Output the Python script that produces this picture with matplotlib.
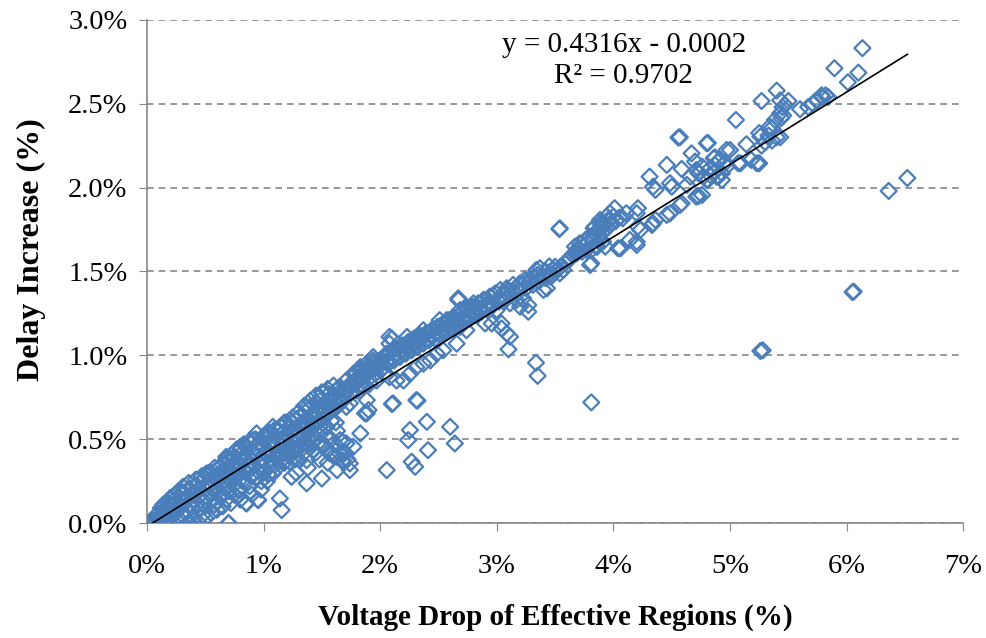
import matplotlib.pyplot as plt
import numpy as np

# values, in percent (x = voltage drop, y = delay increase)
near_origin = [
    (0.02, 0.0), (0.05, 0.0), (0.08, 0.01), (0.1, 0.0), (0.1, 0.03), (0.12, 0.05),
    (0.15, 0.0), (0.15, 0.04), (0.15, 0.08), (0.18, 0.02), (0.2, 0.0), (0.2, 0.06),
    (0.2, 0.1), (0.22, 0.13), (0.25, 0.02), (0.25, 0.08), (0.25, 0.12), (0.28, 0.0),
    (0.28, 0.15), (0.3, 0.05), (0.3, 0.1), (0.3, 0.18), (0.33, 0.13), (0.35, 0.0),
    (0.35, 0.07), (0.35, 0.16), (0.35, 0.2), (0.38, 0.11), (0.4, 0.03), (0.4, 0.14),
    (0.4, 0.22), (0.42, 0.18), (0.45, 0.0), (0.45, 0.08), (0.45, 0.16), (0.45, 0.24),
    (0.48, 0.12), (0.5, 0.03), (0.5, 0.2), (0.5, 0.27), (0.52, 0.15), (0.55, 0.06),
    (0.55, 0.23), (0.55, 0.3), (0.58, 0.11), (0.58, 0.19), (0.6, 0.08), (0.6, 0.26),
    (0.6, 0.32), (0.62, 0.16), (0.65, 0.1), (0.65, 0.22), (0.65, 0.29), (0.65, 0.35),
    (0.68, 0.14), (0.7, 0.0), (0.7, 0.19), (0.7, 0.26), (0.7, 0.37), (0.72, 0.12),
    (0.72, 0.31), (0.75, 0.17), (0.75, 0.23), (0.75, 0.39), (0.78, 0.28), (0.8, 0.14),
    (0.8, 0.2), (0.8, 0.34), (0.8, 0.44), (0.82, 0.25), (0.85, 0.12), (0.85, 0.3),
    (0.85, 0.38), (0.85, 0.46), (0.88, 0.22), (0.9, 0.17), (0.9, 0.33), (0.9, 0.42),
    (0.9, 0.48), (0.93, 0.27), (0.95, 0.14), (0.95, 0.36), (0.95, 0.44), (0.98, 0.2),
    (0.37, 0.0), (0.955, 0.137), (0.855, 0.117), (0.94, 0.535), (0.225, 0.157),
    (0.31, 0.217), (0.51, 0.296), (0.68, 0.395), (0.80, 0.455), (0.91, 0.495),
    (0.05, 0.02), (0.07, 0.04), (0.1, 0.06), (0.12, 0.09), (0.14, 0.11), (0.17, 0.06),
    (0.18, 0.12), (0.2, 0.15), (0.23, 0.05), (0.24, 0.17), (0.27, 0.1), (0.27, 0.19),
    (0.3, 0.14), (0.32, 0.21), (0.33, 0.03), (0.36, 0.24), (0.38, 0.17), (0.4, 0.08),
    (0.42, 0.26), (0.43, 0.12), (0.44, 0.2), (0.47, 0.28), (0.48, 0.05), (0.5, 0.1),
    (0.5, 0.16), (0.52, 0.24), (0.53, 0.3), (0.56, 0.18), (0.57, 0.27), (0.58, 0.33),
    (0.6, 0.13), (0.6, 0.21), (0.62, 0.29), (0.63, 0.34), (0.65, 0.17), (0.66, 0.25),
    (0.67, 0.32), (0.68, 0.38), (0.7, 0.22), (0.72, 0.29), (0.73, 0.35), (0.73, 0.41),
    (0.75, 0.27), (0.76, 0.33), (0.77, 0.44), (0.78, 0.2), (0.8, 0.3), (0.8, 0.38),
    (0.82, 0.42), (0.83, 0.47), (0.85, 0.25), (0.86, 0.34), (0.87, 0.4), (0.88, 0.49),
    (0.9, 0.28), (0.9, 0.37), (0.92, 0.45), (0.93, 0.5), (0.95, 0.31), (0.95, 0.4),
    (0.97, 0.48), (0.98, 0.25), (0.98, 0.35),
]

low_band = [
    (1.0, 0.3), (1.0, 0.38), (1.0, 0.46), (1.0, 0.52), (1.03, 0.25), (1.05, 0.34),
    (1.05, 0.42), (1.05, 0.54), (1.08, 0.3), (1.1, 0.39), (1.1, 0.46), (1.1, 0.56),
    (1.12, 0.33), (1.15, 0.42), (1.15, 0.5), (1.15, 0.58), (1.18, 0.36), (1.2, 0.45),
    (1.2, 0.53), (1.2, 0.6), (1.22, 0.4), (1.25, 0.48), (1.25, 0.56), (1.25, 0.63),
    (1.28, 0.43), (1.3, 0.5), (1.3, 0.58), (1.3, 0.66), (1.33, 0.47), (1.35, 0.53),
    (1.35, 0.61), (1.35, 0.7), (1.38, 0.5), (1.4, 0.56), (1.4, 0.64), (1.4, 0.73),
    (1.43, 0.52), (1.45, 0.59), (1.45, 0.67), (1.45, 0.76), (1.48, 0.55), (1.5, 0.62),
    (1.5, 0.7), (1.5, 0.78), (1.53, 0.58), (1.55, 0.65), (1.55, 0.73), (1.55, 0.8),
    (1.58, 0.61), (1.6, 0.68), (1.6, 0.76), (1.6, 0.82), (1.63, 0.55), (1.65, 0.72),
    (1.65, 0.78), (1.3, 0.38), (1.35, 0.42), (1.4, 0.45), (1.45, 0.42), (1.5, 0.48),
    (1.55, 0.44), (1.45, 0.5), (1.38, 0.33), (1.28, 0.3), (1.03, 0.535), (1.08, 0.574),
    (1.226, 0.614), (1.37, 0.693), (1.51, 0.773), (1.655, 0.813),
    (1.14, 0.147), (1.155, 0.078), (1.24, 0.276), (1.08, 0.296), (1.37, 0.237),
    (1.50, 0.266), (1.63, 0.316), (1.74, 0.316), (1.68, 0.366), (1.655, 0.415),
    (1.40, 0.555), (1.34, 0.515), (1.37, 0.475), (1.31, 0.455), (1.43, 0.435),
    (1.51, 0.455), (1.57, 0.415), (1.63, 0.395), (1.68, 0.375), (1.74, 0.356),
    (1.255, 0.435), (1.20, 0.415), (1.14, 0.395), (1.225, 0.366), (1.37, 0.375),
    (1.54, 0.574), (1.48, 0.574), (1.655, 0.495), (1.71, 0.475), (1.77, 0.455),
    (1.83, 0.535), (1.68, 0.485), (1.68, 0.425),
    (1.02, 0.42), (1.02, 0.5), (1.04, 0.29), (1.06, 0.48), (1.07, 0.38), (1.09, 0.52),
    (1.1, 0.35), (1.12, 0.43), (1.13, 0.55), (1.15, 0.37), (1.16, 0.46), (1.17, 0.54),
    (1.18, 0.6), (1.2, 0.49), (1.22, 0.57), (1.23, 0.44), (1.24, 0.6), (1.26, 0.52),
    (1.27, 0.38), (1.28, 0.62), (1.3, 0.45), (1.3, 0.54), (1.32, 0.64), (1.33, 0.58),
    (1.35, 0.48), (1.36, 0.66), (1.37, 0.57), (1.39, 0.61), (1.4, 0.69), (1.42, 0.59),
    (1.42, 0.48), (1.44, 0.64), (1.45, 0.72), (1.47, 0.61), (1.48, 0.68), (1.5, 0.74),
    (1.52, 0.66), (1.53, 0.52), (1.54, 0.7), (1.56, 0.77), (1.57, 0.68), (1.58, 0.5),
    (1.6, 0.73), (1.62, 0.79), (1.63, 0.46), (1.64, 0.7), (1.66, 0.75), (1.6, 0.4),
    (1.55, 0.36), (1.48, 0.38), (1.62, 0.6), (1.7, 0.42), (1.72, 0.38),
]

mid_band = [
    (1.62, 0.72), (1.68, 0.76), (1.72, 0.8), (1.76, 0.82), (1.8, 0.84), (1.85, 0.87),
    (1.9, 0.9), (1.95, 0.92), (2.0, 0.94), (2.05, 0.96), (2.1, 0.99), (2.15, 1.01),
    (2.2, 1.03), (2.25, 1.05), (2.3, 1.07), (2.35, 1.09), (2.4, 1.1), (2.45, 1.12),
    (2.5, 1.14), (2.55, 1.16), (2.6, 1.18), (2.65, 1.2), (2.7, 1.22), (2.75, 1.24),
    (2.8, 1.26), (2.85, 1.28), (2.9, 1.3), (2.95, 1.31), (3.0, 1.33),
    (2.80, 1.31), (2.74, 1.29), (2.685, 1.27), (2.63, 1.23), (2.57, 1.19), (2.51, 1.17),
    (2.455, 1.15), (2.40, 1.13), (2.34, 1.11), (2.28, 1.09), (2.23, 1.07), (2.17, 1.05),
    (2.11, 1.03), (2.056, 1.01), (2.00, 0.97), (1.94, 0.95), (1.885, 0.93), (1.83, 0.91),
    (1.77, 0.89), (1.71, 0.85), (1.655, 0.81),
    (2.656, 1.07), (2.54, 1.03), (2.485, 1.01), (2.43, 0.97), (2.37, 0.95), (2.31, 0.93),
    (2.255, 0.89), (2.20, 0.85), (2.14, 0.85), (2.08, 0.87), (2.03, 0.89), (1.97, 0.85),
    (1.91, 0.83), (1.855, 0.81), (1.80, 0.79), (1.74, 0.77), (1.68, 0.73),
    (2.57, 1.21), (2.51, 1.21), (2.37, 1.15), (2.23, 1.11), (2.08, 1.07), (1.94, 0.99),
    (1.83, 0.93), (1.80, 0.893), (1.885, 0.952), (2.08, 1.11), (2.10, 1.10), (2.67, 1.33),
    (2.67, 1.34), (1.83, 0.912), (1.87, 0.893), (1.885, 0.733), (1.90, 0.674),
    (1.71, 0.693), (1.74, 0.714), (1.94, 0.97), (1.885, 0.654),
    (1.7, 0.79), (1.73, 0.82), (1.75, 0.78), (1.78, 0.85), (1.82, 0.87), (1.84, 0.83),
    (1.87, 0.9), (1.9, 0.86), (1.92, 0.93), (1.96, 0.89), (1.98, 0.95), (2.02, 0.92),
    (2.04, 0.99), (2.07, 0.95), (2.09, 1.02), (2.12, 0.97), (2.14, 1.04), (2.17, 0.99),
    (2.19, 1.06), (2.22, 1.01), (2.24, 1.08), (2.27, 1.03), (2.29, 1.1), (2.32, 1.05),
    (2.34, 1.12), (2.37, 1.07), (2.39, 1.13), (2.42, 1.09), (2.44, 1.15), (2.47, 1.1),
    (2.49, 1.17), (2.52, 1.12), (2.54, 1.19), (2.57, 1.14), (2.59, 1.21), (2.62, 1.16),
    (2.64, 1.22), (2.67, 1.18), (2.69, 1.25), (2.72, 1.2), (2.74, 1.27), (2.77, 1.22),
    (2.79, 1.29), (2.82, 1.24), (2.84, 1.31), (2.87, 1.26), (2.89, 1.33), (2.92, 1.28),
    (2.94, 1.35), (2.97, 1.3), (2.99, 1.37), (3.02, 1.32), (3.05, 1.36), (3.08, 1.34),
    (3.1, 1.38), (3.13, 1.36), (3.16, 1.4), (3.19, 1.38), (3.22, 1.42), (3.25, 1.4),
    (3.28, 1.44), (3.31, 1.42), (3.33, 1.46), (3.36, 1.44), (3.39, 1.47), (3.42, 1.46),
    (3.45, 1.49), (3.48, 1.48), (3.52, 1.51), (3.55, 1.53), (3.58, 1.55), (3.62, 1.57),
    (3.65, 1.6), (3.68, 1.62), (3.7, 1.64), (3.74, 1.65), (3.78, 1.67), (3.82, 1.69),
    (3.86, 1.71), (3.9, 1.73), (3.95, 1.76), (3.98, 1.79), (4.02, 1.8), (4.05, 1.82),
]

upper_band = [
    (2.97, 1.36), (3.03, 1.39), (3.085, 1.40), (3.14, 1.42), (3.20, 1.43), (3.24, 1.45),
    (3.285, 1.46), (3.06, 1.32), (3.113, 1.31), (3.17, 1.33), (3.225, 1.34), (3.27, 1.30),
    (3.20, 1.29), (2.999, 1.27), (3.04, 1.19), (2.94, 1.32), (2.885, 1.33), (2.856, 1.27),
    (2.80, 1.27), (2.77, 1.23), (2.727, 1.21), (2.685, 1.17), (2.74, 1.15), (2.90, 1.19),
    (2.956, 1.19), (3.10, 1.036), (3.113, 1.111), (3.085, 1.131), (3.04, 1.161),
    (3.27, 1.26), (3.43, 1.40), (3.40, 1.39), (3.54, 1.489), (3.57, 1.509), (3.50, 1.528),
    (3.80, 1.539), (3.37, 1.519), (3.34, 1.509), (3.33, 1.469), (3.46, 1.469),
    (3.485, 1.509), (3.35, 1.48), (3.42, 1.50), (3.45, 1.53), (3.60, 1.56), (3.63, 1.58),
    (3.67, 1.648), (3.71, 1.668), (3.76, 1.688), (3.80, 1.708), (3.84, 1.727),
    (3.885, 1.757), (3.93, 1.777), (3.955, 1.807), (3.83, 1.757), (3.885, 1.787),
    (3.77, 1.628), (3.855, 1.648), (3.91, 1.678), (3.685, 1.608), (3.73, 1.618),
    (3.536, 1.753), (3.54, 1.757),
    (4.01, 1.877), (3.97, 1.847), (4.00, 1.827), (3.94, 1.827), (3.885, 1.807),
    (3.91, 1.787), (3.84, 1.767), (3.87, 1.747), (3.83, 1.708), (3.885, 1.688),
    (3.93, 1.648), (3.86, 1.648), (3.81, 1.628), (3.81, 1.548),
    (4.21, 1.877), (4.20, 1.847), (4.11, 1.847), (4.08, 1.817), (4.21, 1.767),
    (4.23, 1.747), (4.14, 1.688), (4.20, 1.677), (4.06, 1.638), (4.04, 1.638),
    (4.20, 1.658), (4.34, 1.787), (4.33, 1.777), (4.36, 1.807), (4.485, 1.846),
    (4.457, 1.837), (4.57, 1.896), (4.585, 1.906), (4.73, 1.95), (4.71, 1.946),
    (4.31, 2.065), (4.34, 2.005), (4.36, 1.986), (4.485, 2.026), (4.50, 2.005),
    (4.63, 2.016), (4.66, 2.065), (4.73, 2.085), (4.77, 2.065), (4.81, 2.045),
    (4.83, 2.075), (4.885, 2.065), (4.93, 2.085), (4.97, 2.125), (4.457, 2.135),
    (4.585, 2.111), (4.70, 2.155), (4.71, 2.105), (4.86, 2.175), (4.90, 2.155),
    (4.87, 2.135), (4.67, 2.204), (4.80, 2.264), (4.557, 2.298), (4.57, 2.30),
    (4.76, 2.125), (4.83, 2.115), (4.86, 2.085), (4.90, 2.065), (4.80, 2.045),
    (4.93, 2.045), (4.76, 1.956), (4.81, 2.266), (4.87, 2.18), (4.91, 2.165),
    (4.96, 2.147), (5.00, 2.224), (4.97, 2.224),
    (5.05, 2.403), (5.09, 2.145), (5.07, 2.145), (5.14, 2.258), (5.18, 2.165),
    (5.25, 2.145), (5.23, 2.145), (5.25, 2.325), (5.26, 2.304), (5.27, 2.25),
    (5.30, 2.27), (5.36, 2.28), (5.40, 2.30), (5.43, 2.30), (5.33, 2.31),
    (5.36, 2.355), (5.34, 2.363), (5.385, 2.403), (5.44, 2.415), (5.455, 2.43),
    (5.43, 2.443), (5.47, 2.492), (5.45, 2.479), (5.27, 2.516), (5.43, 2.52),
    (5.50, 2.516), (5.40, 2.578), (5.60, 2.467), (5.67, 2.48), (5.71, 2.50),
    (5.75, 2.52), (5.79, 2.54), (5.82, 2.55), (5.84, 2.54), (5.74, 2.52),
    (5.785, 2.55), (6.01, 2.628), (5.895, 2.711), (6.10, 2.685), (6.135, 2.831),
]

outliers = [
    (6.52, 2.057), (6.36, 1.98), (6.05, 1.377), (6.06, 1.38), (5.26, 1.026),
    (5.28, 1.03), (3.81, 0.72), (3.336, 0.956), (3.35, 0.878),
    (2.31, 0.733), (2.32, 0.73), (2.11, 0.714), (2.10, 0.71), (1.87, 0.654),
    (2.40, 0.604), (2.60, 0.574), (2.255, 0.555), (2.24, 0.495), (2.64, 0.475),
    (2.41, 0.435), (2.27, 0.366), (2.30, 0.336), (2.056, 0.316), (0.70, 0.0),
]

# excel linear trendline shown on the chart
slope = 0.4316
intercept = -0.0002

pts = np.array(near_origin + low_band + mid_band + upper_band + outliers) / 100.0
x = pts[:, 0]
y = pts[:, 1]

plt.rcParams['font.family'] = ['Liberation Serif', 'DejaVu Serif']

fig = plt.figure(figsize=(9.86, 6.38), dpi=100)
ax = fig.add_axes([0.149, 0.180, 0.828, 0.789])

ax.scatter(x, y, marker='D', s=66, facecolors='none', edgecolors='#4a7ebb',
           linewidths=1.6, zorder=3)

xs = np.array([x.min(), x.max()])
ax.plot(xs, slope * xs + intercept, color='black', lw=1.2, zorder=4)

ax.set_xlim(0, 0.07)
ax.set_ylim(0, 0.03)
ax.set_xticks(np.arange(0, 0.071, 0.01))
ax.set_yticks(np.arange(0, 0.0301, 0.005))
ax.set_xticklabels(['%d%%' % round(v * 100) for v in ax.get_xticks()])
ax.set_yticklabels(['%.1f%%' % (v * 100) for v in ax.get_yticks()])
ax.tick_params(labelsize=20.5, direction='out', length=6, color='#868686')
ax.tick_params(axis='x', pad=16)
ax.tick_params(axis='y', pad=8)

ax.yaxis.grid(True, linestyle=(0, (4, 3)), color='#868686', lw=1.2)
ax.set_axisbelow(True)
for s in ['top', 'right']:
    ax.spines[s].set_visible(False)
for s in ['left', 'bottom']:
    ax.spines[s].set_color('#868686')
    ax.spines[s].set_linewidth(1.2)

ax.set_xlabel('Voltage Drop of Effective Regions (%)', fontsize=21,
              fontweight='bold', labelpad=18)
ax.set_ylabel('Delay Increase (%)', fontsize=23, fontweight='bold')
ax.yaxis.set_label_coords(-0.124, 0.543)

ax.text(0.0409, 0.0285, 'y = 0.4316x - 0.0002', fontsize=21, ha='center', va='center')
ax.text(0.0409, 0.02665, 'R² = 0.9702', fontsize=21, ha='center', va='center')

fig.savefig('out.png', dpi=100)
